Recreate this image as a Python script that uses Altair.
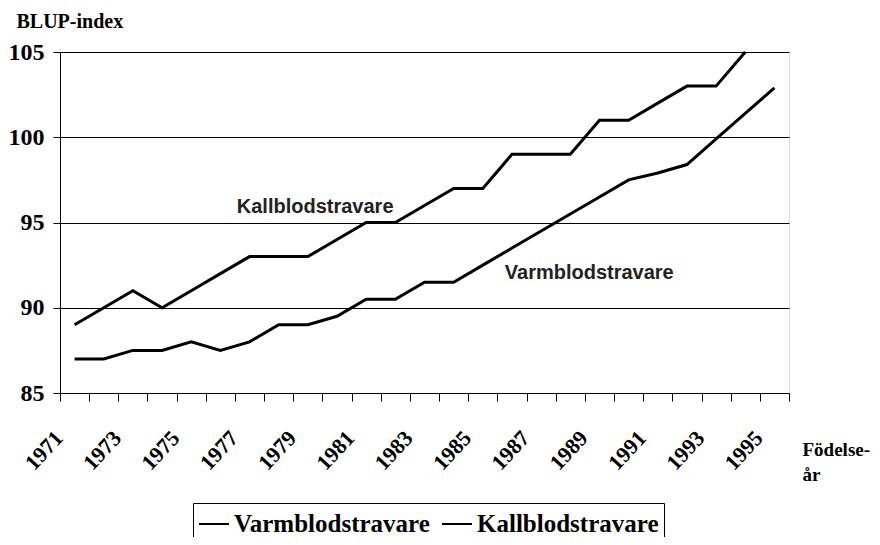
import altair as alt
import pandas as pd

years = list(range(1971, 1996))
kallblod = [89, 90, 91, 90, 91, 92, 93, 93, 93, 94, 95, 95, 96, 97, 97, 99, 99, 99,
            101, 101, 102, 103, 103, 105]
varmblod = [87, 87, 87.5, 87.5, 88, 87.5, 88, 89, 89, 89.5, 90.5, 90.5, 91.5, 91.5,
            92.5, 93.5, 94.5, 95.5, 96.5, 97.5, 97.9, 98.4, 99.9, 101.4, 102.9]
series_names = ["Varmblodstravare", "Kallblodstravare"]
y_ticks = [85, 90, 95, 100, 105]
x_label_years = list(range(1971, 1996, 2))
x_tick_bounds = [y - 0.5 for y in range(1971, 1997)]

ann_text = ["Kallblodstravare", "Varmblodstravare"]
ann_x = [1979.25, 1988.65]
ann_y = [95.9, 92.05]

rows = []
for y, v in zip(years, varmblod):
    rows.append({"year": y, "value": v, "series": "Varmblodstravare"})
for y, v in zip(years, kallblod):
    rows.append({"year": y, "value": v, "series": "Kallblodstravare"})
df = pd.DataFrame(rows)
ann = pd.DataFrame({"text": ann_text, "x": ann_x, "y": ann_y})

SERIF = "Liberation Serif"

xscale = alt.Scale(domain=[1970.5, 1995.5], nice=False, zero=False)
yscale = alt.Scale(domain=[85, 105], nice=False, zero=False)

lines = alt.Chart(df).mark_line(strokeWidth=3).encode(
    x=alt.X("year:Q", scale=xscale,
            axis=alt.Axis(values=x_tick_bounds, labels=False, tickSize=8,
                          tickColor="black", domainColor="black", grid=False,
                          title=None, orient="bottom")),
    y=alt.Y("value:Q", scale=yscale,
            axis=alt.Axis(values=y_ticks, grid=True, gridColor="black", gridOpacity=1,
                          gridWidth=1, tickSize=7, tickColor="black", domainColor="black",
                          labelFont=SERIF, labelFontWeight="bold", labelFontSize=24,
                          labelColor="black", labelPadding=9, format="d",
                          title="BLUP-index", titleAngle=0, titleAlign="left",
                          titleBaseline="alphabetic", titleX=-44, titleY=-25,
                          titleFont=SERIF, titleFontSize=20, titleFontWeight="bold",
                          titleColor="black")),
    color=alt.Color("series:N",
                    scale=alt.Scale(domain=series_names, range=["black", "black"]),
                    legend=alt.Legend(orient="none", legendX=133, legendY=451,
                                      direction="horizontal", title=None,
                                      symbolType="stroke", symbolSize=900,
                                      symbolStrokeWidth=2, symbolStrokeColor="black",
                                      labelFont=SERIF, labelFontWeight="bold",
                                      labelFontSize=25, labelColor="black",
                                      labelLimit=400, labelOffset=4, columnPadding=8,
                                      strokeColor="black", padding=5)),
)

texts = alt.Chart(ann).mark_text(font="Liberation Sans", fontWeight="bold",
                                 fontSize=20, color="#222222").encode(
    x=alt.X("x:Q", scale=xscale,
            axis=alt.Axis(values=x_label_years, ticks=False, tickSize=0, domain=False,
                          grid=False, format="d",
                          labelAngle=-47, labelAlign="right", labelBaseline="middle",
                          labelFont=SERIF, labelFontWeight="bold", labelFontSize=22,
                          labelColor="black", labelPadding=41, labelOffset=-16,
                          orient="bottom",
                          title=["Födelse-", "år"], titleAngle=0, titleAlign="left",
                          titleBaseline="alphabetic", titleX=742, titleY=62,
                          titleLineHeight=25, titleFont=SERIF, titleFontSize=19,
                          titleFontWeight="bold", titleColor="black")),
    y=alt.Y("y:Q", scale=yscale),
    text="text:N",
)

chart = alt.layer(lines, texts).resolve_axis(x="independent").properties(
    width=729, height=341,
    autosize=alt.AutoSizeParams(type="none"),
    padding={"left": 52, "top": 44, "right": 83, "bottom": 144},
).configure_view(stroke="black", strokeWidth=1).configure(background="white")

chart.save("out.html", embed_options={"renderer": "svg", "actions": False})
